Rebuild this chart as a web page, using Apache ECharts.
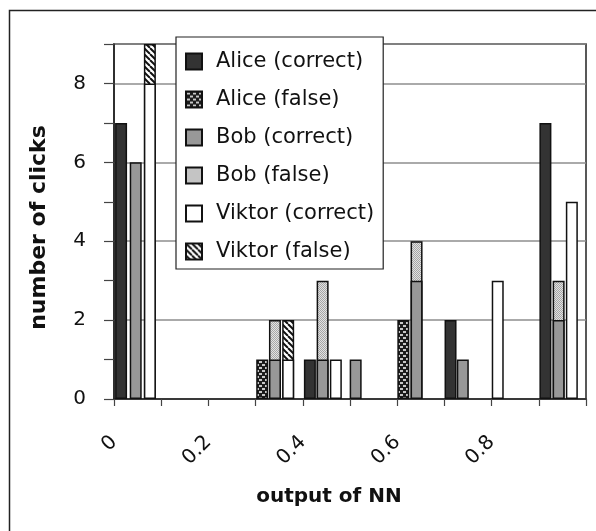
<!DOCTYPE html>
<html>
<head>
<meta charset="utf-8">
<script src="https://cdn.jsdelivr.net/npm/echarts@6/dist/echarts.min.js"></script>
<style>
  html, body { margin: 0; padding: 0; background: #fff; }
  #chart { width: 596px; height: 531px; }
</style>
</head>
<body>
<div id="chart"></div>
<script>
// each bar: [position on "output of NN" axis (bar centre), number of clicks]
const aliceCorrect = [[0.015, 7], [0.415, 1], [0.713, 2], [0.914, 7]];
const aliceFalse = [[0.314, 1], [0.613, 2]];
const bobCorrect = [[0.046, 6], [0.341, 1], [0.442, 1], [0.512, 1], [0.641, 3], [0.739, 1], [0.942, 2]];
const bobFalse = [[0.341, 1], [0.442, 2], [0.641, 1], [0.942, 1]];
const viktorCorrect = [[0.076, 8], [0.369, 1], [0.470, 1], [0.813, 3], [0.970, 5]];
const viktorFalse = [[0.076, 1], [0.369, 1]];

const seriesNames = ['Alice (correct)', 'Alice (false)', 'Bob (correct)', 'Bob (false)', 'Viktor (correct)', 'Viktor (false)'];
const xLabels = ['0', '0.2', '0.4', '0.6', '0.8'];
const yLabels = [0, 2, 4, 6, 8];

const FONT = 'DejaVu Sans';

// small canvas tiles for the hatched fills
function makePattern(w, h, draw) {
  const c = document.createElement('canvas');
  c.width = w;
  c.height = h;
  draw(c.getContext('2d'));
  return { image: c, repeat: 'repeat' };
}

const brick = makePattern(6, 6, ctx => {
  ctx.fillStyle = '#1c1c1c';
  ctx.fillRect(0, 0, 6, 6);
  ctx.fillStyle = '#c8c8c8';
  ctx.fillRect(1, 1, 3, 2);
  ctx.fillRect(4, 4, 3, 2);
  ctx.fillRect(-2, 4, 3, 2);
});
const stipple = makePattern(2, 2, ctx => {
  ctx.fillStyle = '#e2e2e2';
  ctx.fillRect(0, 0, 2, 2);
  ctx.fillStyle = '#a6a6a6';
  ctx.fillRect(0, 0, 1, 1);
  ctx.fillRect(1, 1, 1, 1);
});
const stripes = makePattern(6, 6, ctx => {
  ctx.fillStyle = '#fff';
  ctx.fillRect(0, 0, 6, 6);
  ctx.strokeStyle = '#111';
  ctx.lineWidth = 2;
  for (let o = -6; o <= 6; o += 6) {
    ctx.beginPath();
    ctx.moveTo(o, 0);
    ctx.lineTo(o + 6, 6);
    ctx.stroke();
  }
});

// false counts sit on top of the correct ones
function stackTop(correct, wrong) {
  return wrong.map(([x, n]) => {
    const base = correct.find(d => d[0] === x);
    return [x, (base ? base[1] : 0) + n];
  });
}

function bar(name, data, color) {
  return {
    name: name,
    type: 'bar',
    data: data,
    barWidth: 12,
    barGap: '-100%',
    itemStyle: { color: color, borderColor: '#111', borderWidth: 1.5 },
    emphasis: { disabled: true }
  };
}

const chart = echarts.init(document.getElementById('chart'));

chart.setOption({
  animation: false,
  grid: {
    left: 114, top: 44, right: 10, bottom: 132,
    show: true, borderColor: '#222', borderWidth: 1.5,
    outerBoundsMode: 'none'
  },
  legend: {
    data: seriesNames,
    orient: 'vertical',
    left: 176, top: 37,
    padding: [14, 9, 7, 9],
    itemGap: 17,
    itemWidth: 16, itemHeight: 16,
    icon: 'rect',
    selectedMode: false,
    backgroundColor: '#fff',
    borderColor: '#222',
    borderWidth: 1.2,
    textStyle: { fontFamily: FONT, fontSize: 21, color: '#111', padding: [0, 0, 0, 9] }
  },
  xAxis: {
    type: 'value',
    min: 0, max: 1, interval: 0.1,
    name: 'output of NN',
    nameLocation: 'middle',
    nameGap: 88,
    nameTextStyle: { fontFamily: FONT, fontSize: 20, fontWeight: 'bold', color: '#111', padding: [0, 42, 0, 0] },
    axisLine: { lineStyle: { color: '#222', width: 1.5 } },
    axisTick: { length: 7, lineStyle: { color: '#444', width: 1.2 } },
    axisLabel: {
      rotate: 45,
      margin: 40,
      fontFamily: FONT, fontSize: 20, color: '#111',
      formatter: v => {
        const i = Math.round(v * 10);
        return i % 2 === 0 && i / 2 < xLabels.length ? xLabels[i / 2] : '';
      }
    },
    splitLine: { show: false }
  },
  yAxis: [
    {
      type: 'value',
      min: 0, max: 9, interval: 1,
      name: 'number of clicks',
      nameLocation: 'middle',
      nameGap: 64,
      nameTextStyle: { fontFamily: FONT, fontSize: 22, fontWeight: 'bold', color: '#111', padding: [0, 12, 0, 0] },
      axisLine: { show: true, lineStyle: { color: '#222', width: 1.5 } },
      axisTick: { length: 10, lineStyle: { color: '#444', width: 1.2 } },
      axisLabel: {
        margin: 28,
        fontFamily: FONT, fontSize: 20, color: '#111',
        formatter: v => (yLabels.indexOf(v) >= 0 ? String(v) : '')
      },
      splitLine: { show: false }
    },
    {
      type: 'value',
      min: 0, max: 9, interval: 2,
      position: 'left',
      axisLine: { show: false },
      axisTick: { show: false },
      axisLabel: { show: false },
      splitLine: { lineStyle: { color: '#8e8e8e', width: 1.5 } }
    }
  ],
  series: [
    bar('Alice (false)', stackTop(aliceCorrect, aliceFalse), brick),
    bar('Bob (false)', stackTop(bobCorrect, bobFalse), stipple),
    bar('Viktor (false)', stackTop(viktorCorrect, viktorFalse), stripes),
    bar('Alice (correct)', aliceCorrect, '#333333'),
    bar('Bob (correct)', bobCorrect, '#989898'),
    bar('Viktor (correct)', viktorCorrect, '#ffffff')
  ],
  graphic: [{
    type: 'rect',
    silent: true,
    shape: { x: 9.5, y: 10.5, width: 620, height: 560 },
    style: { fill: 'none', stroke: '#222', lineWidth: 1.5 }
  }]
});
</script>
</body>
</html>
